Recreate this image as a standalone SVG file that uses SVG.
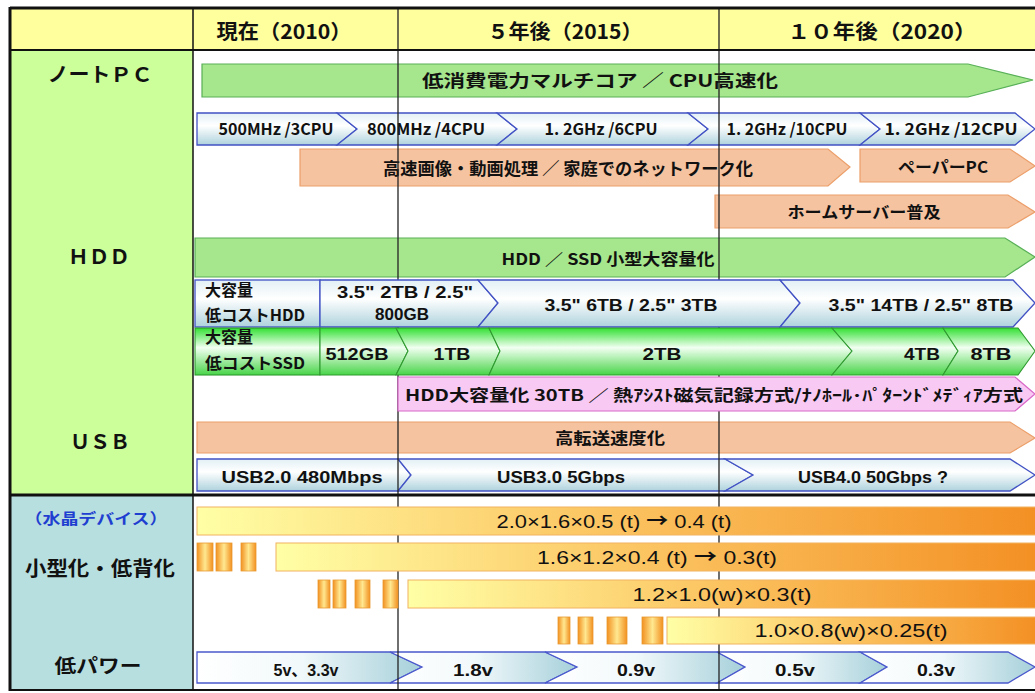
<svg xmlns="http://www.w3.org/2000/svg" width="1035" height="693" viewBox="0 0 1035 693">
<defs>
<linearGradient id="gBlue" x1="0" y1="0" x2="0" y2="1"><stop offset="0" stop-color="#e2f0f5"/><stop offset="0.4" stop-color="#ffffff"/><stop offset="1" stop-color="#aed2dd"/></linearGradient>
<linearGradient id="gBlueH" x1="0" y1="0" x2="1" y2="0"><stop offset="0" stop-color="#ffffff"/><stop offset="0.45" stop-color="#f2f9fb"/><stop offset="1" stop-color="#a6d0da"/></linearGradient>
<linearGradient id="gSsd" x1="0" y1="0" x2="0" y2="1"><stop offset="0" stop-color="#33e033"/><stop offset="0.42" stop-color="#f2fff2"/><stop offset="1" stop-color="#48d448"/></linearGradient>
<linearGradient id="gCry" x1="0" y1="0" x2="1" y2="0"><stop offset="0" stop-color="#ffffa6"/><stop offset="0.45" stop-color="#fcc866"/><stop offset="1" stop-color="#f39024"/></linearGradient>
<linearGradient id="gBox" x1="0" y1="0" x2="1" y2="0"><stop offset="0" stop-color="#f29020"/><stop offset="0.5" stop-color="#ffe890"/><stop offset="1" stop-color="#f29020"/></linearGradient>
<style>
.frame{stroke:#111;fill:none}
.grid{stroke:#222;stroke-width:1.3;fill:none}
.gbar{fill:#a6e68c;stroke:#58b058;stroke-width:1.2}
.obar{fill:#f5c3a0;stroke:#ec9f6a;stroke-width:1.2}
.pbar{fill:#f8c9f2;stroke:#d868c8;stroke-width:1.2}
.blue{fill:url(#gBlue);stroke:#4252c4;stroke-width:1.3}
.blueh{fill:url(#gBlueH);stroke:#4a58cc;stroke-width:1.3}
.ssd{fill:url(#gSsd);stroke:#2f9a2f;stroke-width:1.1}
.cry{fill:url(#gCry);stroke:#f2b460;stroke-width:1}
.box{fill:url(#gBox);stroke:#e89a30;stroke-width:0.8}
text{font-family:"Liberation Sans","Noto Sans CJK JP",sans-serif;fill:#111}
.jp{font-family:"Noto Sans CJK JP","Liberation Sans",sans-serif;font-weight:bold}
.hd{font-size:20px;text-anchor:middle}
.lab{font-size:20px;text-anchor:middle}
.t16{font-size:16px;text-anchor:middle}
.t17{font-size:17px;text-anchor:middle}
.num{font-size:17px;text-anchor:middle;font-weight:bold}
.cpu{font-family:"Noto Sans CJK JP",sans-serif;font-size:16px;text-anchor:middle;font-weight:bold}
.cr{font-size:19px;text-anchor:middle}
.arr{font-family:"Noto Sans CJK JP",sans-serif;font-weight:bold}
</style>
</defs>

<g id="background">
<rect x="10" y="8" width="1025" height="42" fill="#ffff9e"/>
<rect x="10" y="50" width="183" height="445" fill="#ccff99"/>
<rect x="10" y="495" width="183" height="195" fill="#b8dfe0"/>
<rect x="193" y="50" width="842" height="640" fill="#ffffff"/>
</g>

<g id="header">
<text class="jp hd" x="284" y="39" textLength="135" lengthAdjust="spacingAndGlyphs">現在（2010）</text>
<text class="jp hd" x="565" y="39" textLength="155" lengthAdjust="spacingAndGlyphs">５年後（2015）</text>
<text class="jp hd" x="882" y="39" textLength="189" lengthAdjust="spacingAndGlyphs">１０年後（2020）</text>
</g>

<g id="row-labels">
<text class="jp lab" x="100" y="82" textLength="105" lengthAdjust="spacingAndGlyphs">ノートＰＣ</text>
<text class="jp lab" x="99" y="264" textLength="62" lengthAdjust="spacingAndGlyphs">ＨＤＤ</text>
<text class="jp lab" x="100" y="449" textLength="60" lengthAdjust="spacingAndGlyphs">ＵＳＢ</text>
<text class="jp" x="96" y="524" font-size="15" text-anchor="middle" style="fill:#1f3fd0" textLength="143" lengthAdjust="spacingAndGlyphs">（水晶デバイス）</text>
<text class="jp" x="100" y="576" font-size="20" text-anchor="middle" textLength="150" lengthAdjust="spacingAndGlyphs">小型化・低背化</text>
<text class="jp" x="98" y="673" font-size="19" text-anchor="middle" textLength="87" lengthAdjust="spacingAndGlyphs">低パワー</text>
</g>

<g id="bars-under-grid">
<g id="multicore"><polygon class="gbar" points="202,64 968,64 1033,80 968,97 202,97"/><text class="jp t17" x="600" y="87" font-size="18" textLength="356" lengthAdjust="spacingAndGlyphs">低消費電力マルチコア ／ CPU高速化</text></g>
<g id="video"><polygon class="obar" points="300,149 828,149 850,167 828,186 300,186"/><text class="jp t17" x="568" y="175" textLength="370" lengthAdjust="spacingAndGlyphs">高速画像・動画処理 ／ 家庭でのネットワーク化</text></g>
<g id="paperpc"><polygon class="obar" points="860,149 1010,149 1035,166 1010,182 860,182"/><text class="jp t16" x="943" y="173" textLength="90" lengthAdjust="spacingAndGlyphs">ペーパーPC</text></g>
<g id="homeserver"><polygon class="obar" points="715,195 1008,195 1035,212 1008,228 715,228"/><text class="jp t16" x="864" y="218" textLength="153" lengthAdjust="spacingAndGlyphs">ホームサーバー普及</text></g>
<g id="hddssd"><polygon class="gbar" points="195,238 1005,238 1035,257 1005,277 195,277"/><text class="jp t16" x="608" y="265" textLength="213" lengthAdjust="spacingAndGlyphs">HDD ／ SSD 小型大容量化</text></g>
<g id="transfer"><polygon class="obar" points="197,422 1010,422 1035,438 1010,453 197,453"/><text class="jp t16" x="610" y="444" textLength="110" lengthAdjust="spacingAndGlyphs">高転送速度化</text></g>
<g id="cpu">
<polygon class="blue" points="197,113 337,113 357,129 337,145 197,145"/>
<polygon class="blue" points="337,113 497,113 517,129 497,145 337,145 357,129"/>
<polygon class="blue" points="497,113 688,113 708,129 688,145 497,145 517,129"/>
<polygon class="blue" points="688,113 860,113 880,129 860,145 688,145 708,129"/>
<polygon class="blue" points="860,113 1015,113 1035,129 1015,145 860,145 880,129"/>
<text class="cpu" x="276" y="135" textLength="115" lengthAdjust="spacingAndGlyphs">500MHz /3CPU</text>
<text class="cpu" x="426" y="135" textLength="118" lengthAdjust="spacingAndGlyphs">800MHz /4CPU</text>
<text class="cpu" x="601" y="135" textLength="113" lengthAdjust="spacingAndGlyphs">1. 2GHz /6CPU</text>
<text class="cpu" x="787" y="135" textLength="121" lengthAdjust="spacingAndGlyphs">1. 2GHz /10CPU</text>
<text class="cpu" x="951" y="135" textLength="133" lengthAdjust="spacingAndGlyphs">1. 2GHz /12CPU</text>
</g>
<g id="usb">
<polygon class="blue" points="197,459 398,459 411,475 398,491 197,491"/>
<polygon class="blue" points="398,459 725,459 753,475 725,491 398,491 411,475"/>
<polygon class="blue" points="725,459 1010,459 1035,475 1010,491 725,491 753,475"/>
<text class="num" x="302" y="483" textLength="161" lengthAdjust="spacingAndGlyphs">USB2.0  480Mbps</text>
<text class="num" x="561" y="483" textLength="128" lengthAdjust="spacingAndGlyphs">USB3.0  5Gbps</text>
<text class="num" x="873" y="483" textLength="150" lengthAdjust="spacingAndGlyphs">USB4.0  50Gbps ?</text>
</g>
<g id="power">
<polygon class="blueh" points="197,652 390,652 422,667 390,683 197,683"/>
<polygon class="blueh" points="390,652 545,652 577,667 545,683 390,683 422,667"/>
<polygon class="blueh" points="545,652 717,652 745,667 717,683 545,683 577,667"/>
<polygon class="blueh" points="717,652 860,652 887,667 860,683 717,683 745,667"/>
<polygon class="blueh" points="860,652 1008,652 1035,667 1008,683 860,683 887,667"/>
<text class="num" x="306" y="676" font-size="18" textLength="65" lengthAdjust="spacingAndGlyphs">5v、3.3v</text>
<text class="num" x="473" y="676" font-size="18" textLength="40" lengthAdjust="spacingAndGlyphs">1.8v</text>
<text class="num" x="636" y="676" font-size="18" textLength="38" lengthAdjust="spacingAndGlyphs">0.9v</text>
<text class="num" x="795" y="676" font-size="18" textLength="40" lengthAdjust="spacingAndGlyphs">0.5v</text>
<text class="num" x="936" y="676" font-size="18" textLength="38" lengthAdjust="spacingAndGlyphs">0.3v</text>
</g>
</g>

<g id="grid">
<line class="grid" x1="398" y1="8" x2="398" y2="690"/>
<line class="grid" x1="719" y1="8" x2="719" y2="690"/>
</g>

<g id="bars-over-grid">
<g id="hdd">
<rect class="blue" x="195" y="280" width="125" height="47"/>
<polygon class="blue" points="320,280 478,280 498,303 478,327 320,327"/>
<polygon class="blue" points="478,280 780,280 800,303 780,327 478,327 498,303"/>
<polygon class="blue" points="780,280 1013,280 1035,303 1013,327 780,327 800,303"/>
<text class="jp" x="205" y="296" font-size="16">大容量</text>
<text class="jp" x="205" y="321" font-size="16" textLength="100" lengthAdjust="spacingAndGlyphs">低コストHDD</text>
<text class="num" x="405" y="298" textLength="136" lengthAdjust="spacingAndGlyphs">3.5" 2TB / 2.5"</text>
<text class="num" x="402" y="320">800GB</text>
<text class="num" x="631" y="311" font-size="18" textLength="173" lengthAdjust="spacingAndGlyphs">3.5" 6TB / 2.5" 3TB</text>
<text class="num" x="921" y="311" font-size="18" textLength="185" lengthAdjust="spacingAndGlyphs">3.5" 14TB / 2.5" 8TB</text>
</g>
<g id="ssd">
<rect class="ssd" x="195" y="328" width="125" height="47"/>
<polygon class="ssd" points="320,328 396,328 408,351 396,375 320,375"/>
<polygon class="ssd" points="396,328 489,328 500,351 489,375 396,375 408,351"/>
<polygon class="ssd" points="489,328 832,328 852,351 832,375 489,375 500,351"/>
<polygon class="ssd" points="832,328 943,328 958,351 943,375 832,375 852,351"/>
<polygon class="ssd" points="943,328 1018,328 1035,351 1018,375 943,375 958,351"/>
<text class="jp" x="205" y="343" font-size="16">大容量</text>
<text class="jp" x="205" y="369" font-size="16" textLength="100" lengthAdjust="spacingAndGlyphs">低コストSSD</text>
<text class="num" x="357" y="360" font-size="18" textLength="63" lengthAdjust="spacingAndGlyphs">512GB</text>
<text class="num" x="452" y="360" font-size="18" textLength="37" lengthAdjust="spacingAndGlyphs">1TB</text>
<text class="num" x="662" y="360" font-size="18" textLength="39" lengthAdjust="spacingAndGlyphs">2TB</text>
<text class="num" x="922" y="360" font-size="18" textLength="36" lengthAdjust="spacingAndGlyphs">4TB</text>
<text class="num" x="991" y="360" font-size="18" textLength="41" lengthAdjust="spacingAndGlyphs">8TB</text>
</g>
<g id="hddfuture"><polygon class="pbar" points="398,377 1015,377 1035,394 1015,411 398,411"/><text class="jp" x="405" y="401" font-size="16" textLength="618" lengthAdjust="spacingAndGlyphs">HDD大容量化 30TB ／ 熱ｱｼｽﾄ磁気記録方式/ﾅﾉﾎｰﾙ･ﾊﾟﾀｰﾝﾄﾞﾒﾃﾞｨｱ方式</text></g>
<g id="crystal-a"><rect class="cry" x="197" y="507" width="840" height="28"/><text class="cr" x="614" y="528" textLength="235" lengthAdjust="spacingAndGlyphs">2.0×1.6×0.5 (t) <tspan class="arr">→</tspan> 0.4 (t)</text></g>
<g id="crystal-b">
<rect class="box" x="197" y="543" width="16" height="28"/><rect class="box" x="216" y="543" width="16" height="28"/><rect class="box" x="241" y="543" width="15" height="28"/>
<rect class="cry" x="276" y="543" width="761" height="28"/><text class="cr" x="657" y="564" textLength="240" lengthAdjust="spacingAndGlyphs">1.6×1.2×0.4 (t) <tspan class="arr">→</tspan> 0.3(t)</text></g>
<g id="crystal-c">
<rect class="box" x="318" y="580" width="12" height="28"/><rect class="box" x="333" y="580" width="13" height="28"/><rect class="box" x="355" y="580" width="15" height="28"/><rect class="box" x="383" y="580" width="15" height="28"/>
<rect class="cry" x="408" y="580" width="629" height="28"/><text class="cr" x="722" y="601" textLength="179" lengthAdjust="spacingAndGlyphs">1.2×1.0(w)×0.3(t)</text></g>
<g id="crystal-d">
<rect class="box" x="558" y="617" width="12" height="27"/><rect class="box" x="578" y="617" width="15" height="27"/><rect class="box" x="607" y="617" width="20" height="27"/><rect class="box" x="642" y="617" width="21" height="27"/>
<rect class="cry" x="667" y="617" width="370" height="27"/><text class="cr" x="851" y="637" textLength="193" lengthAdjust="spacingAndGlyphs">1.0×0.8(w)×0.25(t)</text></g>
</g>

<g id="frame">
<line class="frame" x1="10" y1="8" x2="1035" y2="8" stroke-width="3"/>
<line class="frame" x1="10" y1="50" x2="1035" y2="50" stroke-width="2"/>
<line class="frame" x1="10" y1="495" x2="1035" y2="495" stroke-width="3"/>
<line class="frame" x1="10" y1="690" x2="1035" y2="690" stroke-width="2"/>
<line class="frame" x1="10" y1="7" x2="10" y2="691" stroke-width="3"/>
<line class="frame" x1="193" y1="8" x2="193" y2="690" stroke-width="1.5"/>
</g>
</svg>
